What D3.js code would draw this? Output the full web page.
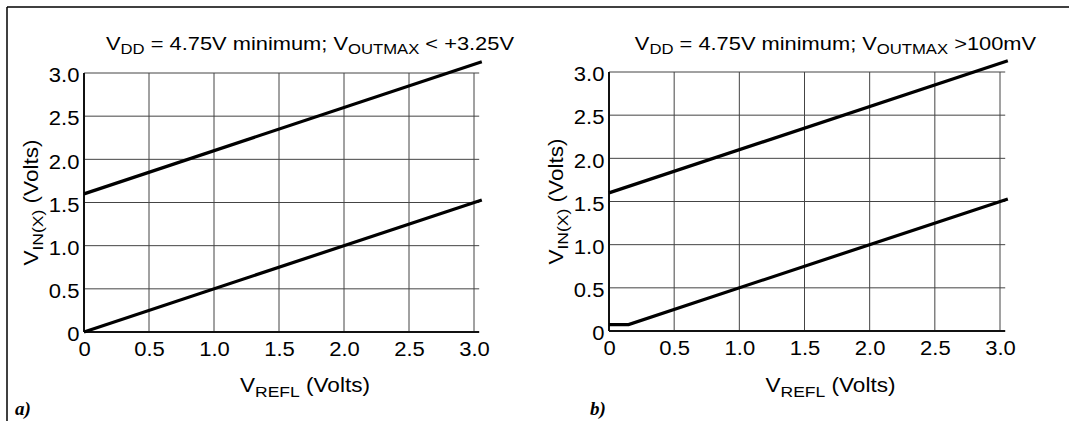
<!DOCTYPE html>
<html>
<head>
<meta charset="utf-8">
<script src="https://cdn.jsdelivr.net/npm/d3@7"></script>
<style>
  html, body { margin: 0; padding: 0; background: #fff; }
  svg { display: block; font-family: "Liberation Sans", Arial, sans-serif; }
</style>
</head>
<body>
<svg id="chart" width="1069" height="421"></svg>
<script>
// ---- data ----
const xTickValues = [0, 0.5, 1.0, 1.5, 2.0, 2.5, 3.0];
const xTickLabels = ["0", "0.5", "1.0", "1.5", "2.0", "2.5", "3.0"];
const yTickValues = [0, 0.5, 1.0, 1.5, 2.0, 2.5, 3.0];
const yTickLabels = ["0", "0.5", "1.0", "1.5", "2.0", "2.5", "3.0"];

// panel a) VOUTMAX < +3.25V
const upperA = [[0, 1.6], [3.06, 3.13]];
const lowerA = [[0, 0.0], [3.06, 1.53]];
// panel b) VOUTMAX > 100mV
const upperB = [[0, 1.6], [3.06, 3.13]];
const lowerB = [[0, 0.075], [0.15, 0.075], [3.06, 1.53]];

const panels = [
  { tag: "a)", titleTail: " < +3.25V", series: [upperA, lowerA],
    x0: 84, x1: 474, y0: 332, y1: 73, tagX: 15 },
  { tag: "b)", titleTail: " >100mV", series: [upperB, lowerB],
    x0: 609, x1: 1000, y0: 331, y1: 72, tagX: 590 }
];

const SX = 1.13; // horizontal stretch of the lettering
const svg = d3.select("#chart");

// outer frame (top and left only)
svg.append("line").attr("x1", 7).attr("x2", 1069).attr("y1", 7).attr("y2", 7)
  .attr("stroke", "#000").attr("stroke-width", 1.5);
svg.append("line").attr("x1", 7).attr("x2", 7).attr("y1", 7).attr("y2", 421)
  .attr("stroke", "#000").attr("stroke-width", 1.5);

panels.forEach(p => {
  const x = d3.scaleLinear().domain([0, 3]).range([p.x0, p.x1]);
  const y = d3.scaleLinear().domain([0, 3]).range([p.y0, p.y1]);
  const g = svg.append("g");
  const xEnd = x(3.04);

  // horizontal grid lines
  g.append("g").selectAll("line").data(yTickValues.slice(1)).join("line")
    .attr("x1", x(0)).attr("x2", xEnd)
    .attr("y1", d => y(d)).attr("y2", d => y(d))
    .attr("stroke", "#444").attr("stroke-width", 1);
  // vertical grid lines
  g.append("g").selectAll("line").data(xTickValues.slice(1)).join("line")
    .attr("x1", d => x(d)).attr("x2", d => x(d))
    .attr("y1", y(0)).attr("y2", y(3))
    .attr("stroke", "#444").attr("stroke-width", 1);

  // axes lines
  g.append("line").attr("x1", x(0)).attr("x2", xEnd).attr("y1", y(0)).attr("y2", y(0))
    .attr("stroke", "#111").attr("stroke-width", 2);
  g.append("line").attr("x1", x(0)).attr("x2", x(0)).attr("y1", y(0)).attr("y2", y(3))
    .attr("stroke", "#111").attr("stroke-width", 2);

  // x tick labels
  const xAxis = d3.axisBottom(x).tickValues(xTickValues)
    .tickFormat((d, i) => xTickLabels[i]).tickSize(0).tickPadding(10);
  const xa = g.append("g").attr("transform", `translate(0,${y(0)})`).call(xAxis);
  xa.select(".domain").remove();
  xa.selectAll("text").attr("font-size", 19.5).attr("fill", "#000")
    .attr("font-family", "Liberation Sans, Arial, sans-serif")
    .attr("transform", `scale(${SX},1)`);

  // y tick labels
  const yAxis = d3.axisLeft(y).tickValues(yTickValues)
    .tickFormat((d, i) => yTickLabels[i]).tickSize(0).tickPadding(4);
  const ya = g.append("g").attr("transform", `translate(${x(0)},0)`).call(yAxis);
  ya.select(".domain").remove();
  ya.selectAll("text").attr("font-size", 19.5).attr("fill", "#000")
    .attr("font-family", "Liberation Sans, Arial, sans-serif")
    .attr("dy", "0.45em")
    .attr("transform", `scale(${SX},1)`);

  // data lines
  const line = d3.line().x(d => x(d[0])).y(d => y(d[1]));
  g.append("g").selectAll("path").data(p.series).join("path")
    .attr("d", line).attr("fill", "none").attr("stroke", "#000")
    .attr("stroke-width", 3.2).attr("stroke-linejoin", "miter");

  // title
  const cx = (p.x0 + p.x1) / 2 + 31;
  const t = g.append("text")
    .attr("transform", `translate(${cx},50) scale(1.15,1)`)
    .attr("text-anchor", "middle").attr("font-size", 19).attr("fill", "#000");
  t.append("tspan").text("V");
  t.append("tspan").text("DD").attr("font-size", 14.5).attr("dy", 4);
  t.append("tspan").text(" = 4.75V minimum; V").attr("dy", -4);
  t.append("tspan").text("OUTMAX").attr("font-size", 14.5).attr("dy", 4);
  t.append("tspan").text(p.titleTail).attr("dy", -4);

  // x axis label
  const xl = g.append("text")
    .attr("transform", `translate(${(p.x0 + p.x1) / 2 + 26},392) scale(${SX},1)`)
    .attr("text-anchor", "middle").attr("font-size", 20).attr("fill", "#000");
  xl.append("tspan").text("V");
  xl.append("tspan").text("REFL").attr("font-size", 15.5).attr("dy", 5);
  xl.append("tspan").text(" (Volts)").attr("dy", -5);

  // y axis label
  const yl = g.append("text")
    .attr("transform", `translate(${p.x0 - 46},${(p.y0 + p.y1) / 2}) rotate(-90) scale(${SX},1)`)
    .attr("text-anchor", "middle").attr("font-size", 20).attr("fill", "#000");
  yl.append("tspan").text("V");
  yl.append("tspan").text("IN(X)").attr("font-size", 15.5).attr("dy", 5);
  yl.append("tspan").text(" (Volts)").attr("dy", -5);

  // panel tag
  g.append("text").attr("x", p.tagX).attr("y", 415)
    .attr("font-family", "Liberation Serif, Times New Roman, serif")
    .attr("font-weight", "bold").attr("font-style", "italic")
    .attr("font-size", 19).attr("fill", "#000").text(p.tag);
});
</script>
</body>
</html>
